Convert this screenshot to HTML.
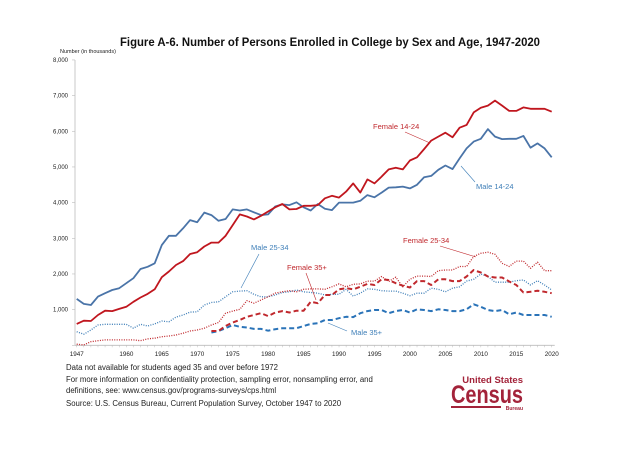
<!DOCTYPE html>
<html><head><meta charset="utf-8"><style>
body{margin:0;background:#fff;}
svg{display:block;font-family:"Liberation Sans",sans-serif;}
</style></head><body>
<svg id="chart" width="624" height="460" viewBox="0 0 624 460">
<text x="330" y="46" text-anchor="middle" font-size="12" font-weight="bold" fill="#111" textLength="420" lengthAdjust="spacingAndGlyphs">Figure A-6. Number of Persons Enrolled in College by Sex and Age, 1947-2020</text>
<text x="60" y="53" font-size="5.5" fill="#222">Number  (in thousands)</text>
<g id="yaxis"></g>
<g id="xaxis"></g>
<g id="series"></g>
<g font-size="7.5">
<text x="373" y="129" fill="#c0282d">Female 14-24</text>
<line x1="405" y1="132" x2="430" y2="143" stroke="#c0282d" stroke-width="0.6"/>
<text x="476" y="189" fill="#3f7fb8">Male 14-24</text>
<line x1="461" y1="166" x2="475" y2="182" stroke="#3f7fb8" stroke-width="0.6"/>
<text x="251" y="250" fill="#3f7fb8">Male 25-34</text>
<line x1="259" y1="254" x2="241" y2="288" stroke="#3f7fb8" stroke-width="0.6"/>
<text x="403" y="243" fill="#c0282d">Female 25-34</text>
<line x1="440" y1="246" x2="476" y2="257" stroke="#c0282d" stroke-width="0.6"/>
<text x="287" y="270" fill="#c0282d">Female 35+</text>
<line x1="306" y1="273" x2="316" y2="300" stroke="#c0282d" stroke-width="0.6"/>
<text x="351" y="335" fill="#3f7fb8">Male 35+</text>
<line x1="328" y1="323" x2="347" y2="331" stroke="#3f7fb8" stroke-width="0.6"/>
</g>
<g font-size="7.8" fill="#222">
<text x="66" y="370">Data not available for students aged 35 and over before 1972</text>
<text x="66" y="382">For more information on confidentiality protection, sampling error, nonsampling error, and</text>
<text x="66" y="393">definitions, see:  www.census.gov/programs-surveys/cps.html</text>
<text x="66" y="406">Source: U.S. Census Bureau, Current Population Survey, October 1947 to 2020</text>
</g>
<g fill="#a3233a">
<text x="523" y="383" text-anchor="end" font-size="9.5" font-weight="bold">United States</text>
<text x="523" y="403" text-anchor="end" font-size="25" font-weight="bold" textLength="72" lengthAdjust="spacingAndGlyphs">Census</text>
<rect x="451" y="406" width="50" height="2"/>
<text x="523" y="410" text-anchor="end" font-size="5" font-weight="bold">Bureau</text>
</g>
</svg>
<script>
const categories = ["1947","1948","1949","1950","1951","1953","1955","1960","1961","1962","1963","1964","1965","1966","1967","1968","1969","1970","1971","1972","1973","1974","1975","1976","1977","1978","1979","1980","1981","1982","1983","1984","1985","1986","1987","1988","1989","1990","1991","1992","1993","1994","1995","1996","1997","1998","1999","2000","2001","2002","2003","2004","2005","2006","2007","2008","2009","2010","2011","2012","2013","2014","2015","2016","2017","2018","2019","2020"];
const xTickLabels = ["1947","1960","1965","1970","1975","1980","1985","1990","1995","2000","2005","2010","2015","2020"];
const yTicks = [0,1000,2000,3000,4000,5000,6000,7000,8000];
const yTickLabels = ["","1,000","2,000","3,000","4,000","5,000","6,000","7,000","8,000"];
const male1424 = [1300,1160,1130,1365,1460,1550,1600,1740,1880,2140,2200,2300,2810,3070,3070,3280,3510,3450,3720,3650,3490,3540,3810,3780,3810,3730,3650,3670,3890,3950,3930,4010,3870,3780,3960,3830,3790,4000,4000,4000,4050,4210,4150,4280,4420,4430,4450,4400,4500,4710,4750,4920,5040,4940,5240,5520,5710,5790,6060,5850,5780,5790,5790,5870,5540,5660,5520,5270];
const female1424 = [600,690,680,850,970,960,1020,1080,1220,1340,1440,1570,1910,2070,2250,2360,2560,2610,2770,2880,2880,3070,3370,3670,3610,3530,3630,3750,3870,3960,3810,3820,3910,3910,3930,4120,4190,4140,4310,4540,4280,4650,4540,4730,4930,4980,4930,5180,5270,5500,5740,5850,5960,5830,6100,6180,6530,6660,6720,6860,6720,6570,6570,6670,6630,6630,6630,6550];
const male2534 = [380,310,430,570,590,590,590,590,480,590,540,600,680,660,790,850,930,940,1130,1200,1220,1360,1500,1520,1530,1430,1360,1360,1410,1480,1500,1550,1500,1480,1460,1410,1430,1430,1570,1380,1460,1580,1570,1530,1520,1520,1460,1390,1460,1460,1600,1570,1500,1600,1640,1800,1850,2000,1930,1770,1770,1770,1810,1830,1690,1810,1690,1550];
const female2534 = [30,10,100,130,150,150,150,150,150,130,180,200,240,260,290,340,400,430,480,570,640,900,960,1010,1250,1180,1270,1360,1460,1500,1530,1500,1570,1580,1580,1570,1640,1720,1640,1710,1720,1800,1800,1930,1790,1910,1640,1850,1940,1940,1930,2090,2110,2110,2210,2210,2490,2580,2610,2550,2300,2210,2360,2360,2160,2330,2090,2090];
const female35 = [null,null,null,null,null,null,null,null,null,null,null,null,null,null,null,null,null,null,null,400,400,540,640,710,800,850,900,820,920,960,920,970,970,1220,1180,1410,1410,1570,1600,1570,1640,1720,1690,1850,1830,1740,1670,1620,1800,1800,1690,1850,1850,1800,1800,1930,2110,2040,1930,1900,1900,1790,1690,1480,1500,1530,1500,1460];
const male35 = [null,null,null,null,null,null,null,null,null,null,null,null,null,null,null,null,null,null,null,360,400,480,570,520,500,460,460,410,450,480,480,480,540,600,620,710,710,760,800,790,900,960,990,990,900,960,990,920,1010,990,960,1010,990,960,960,1010,1150,1080,990,960,990,870,920,850,850,850,850,800];

const NS="http://www.w3.org/2000/svg";
const x0=76.7, step=7.09, yBase=345.3, yPer=0.03567;
function xs(i){return x0+i*step;}
function ys(v){return yBase-v*yPer;}
function mk(tag,attrs,parent){const e=document.createElementNS(NS,tag);for(const k in attrs)e.setAttribute(k,attrs[k]);parent.appendChild(e);return e;}

const yg=document.getElementById('yaxis');
let yl=mk('line',{x1:75,y1:ys(8000),x2:75,y2:yBase,stroke:'#bbb','stroke-width':0.8},yg);


yTicks.forEach((t,i)=>{
  const tk=mk('line',{x1:72,y1:ys(t),x2:75,y2:ys(t),stroke:'#bbb','stroke-width':0.6},yg);
  
  
  if(yTickLabels[i]){
    const tx=mk('text',{x:68,y:ys(t)+2,'text-anchor':'end','font-size':6,fill:'#222'},yg);
    tx.textContent=yTickLabels[i];
    
    
  }
});
const xg=document.getElementById('xaxis');
let xl=mk('line',{x1:75,y1:yBase,x2:xs(categories.length-1)+3,y2:yBase,stroke:'#bbb','stroke-width':0.8},xg);


categories.forEach((c,i)=>{
  const tk=mk('line',{x1:xs(i),y1:yBase,x2:xs(i),y2:yBase+2,stroke:'#bbb','stroke-width':0.5},xg);
  
  
  if(xTickLabels.indexOf(c)>=0){
    const tx=mk('text',{x:xs(i),y:356,'text-anchor':'middle','font-size':6.3,fill:'#222'},xg);
    tx.textContent=c;
    
    
  }
});
const sg=document.getElementById('series');
function draw(data,color,dash,width,name){
  let d='',started=false;
  data.forEach((v,i)=>{if(v==null)return;d+=(started?'L':'M')+xs(i).toFixed(1)+','+ys(v).toFixed(1);started=true;});
  const p=mk('path',{d:d,fill:'none',stroke:color,'stroke-width':width,'stroke-linejoin':'round'},sg);
  if(dash)p.setAttribute('stroke-dasharray',dash);
  
  
}
draw(male2534,'#3f7fb8','1 1.4',1.3,'line-male-25-34');
draw(female2534,'#c0282d','1 1.4',1.3,'line-female-25-34');
draw(male35,'#2a73b8','5 3',2,'line-male-35plus');
draw(female35,'#c0282d','5 3',2,'line-female-35plus');
draw(male1424,'#4a74a8',null,1.8,'line-male-14-24');
draw(female1424,'#c0161e',null,1.8,'line-female-14-24');
</script>
</body></html>
